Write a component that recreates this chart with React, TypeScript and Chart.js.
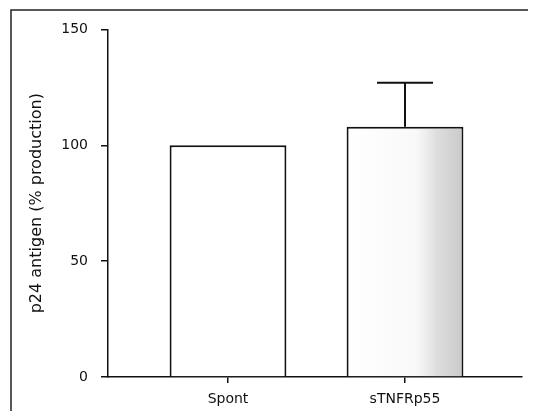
import React, { useEffect, useRef } from "react";
import { Chart, registerables } from "chart.js";

Chart.register(...registerables);

const categories = ["Spont", "sTNFRp55"];
const values = [100, 108];
const errorsUp = [0, 19];
const yTicks = [0, 50, 100, 150];
const yTitle = "p24 antigen (% production)";

const INK = "#111";
const FONT = "'DejaVu Sans', 'Liberation Sans', sans-serif";

export default function App() {
  const ref = useRef<HTMLCanvasElement>(null);

  useEffect(() => {
    if (!ref.current) return;

    const framePlugin = {
      id: "frame",
      beforeDraw(chart: any) {
        const c = chart.ctx;
        c.save();
        c.strokeStyle = "#222";
        c.lineWidth = 1.5;
        c.beginPath();
        c.moveTo(3, chart.height);
        c.lineTo(3, 2);
        c.lineTo(chart.width, 2);
        c.stroke();
        c.restore();
      },
    };

    const errorPlugin = {
      id: "errbars",
      afterDatasetsDraw(chart: any) {
        const meta = chart.getDatasetMeta(0);
        const ys = chart.scales.y;
        const c = chart.ctx;
        c.save();
        const b2 = meta.data[1];
        if (b2) {
          const left = b2.x - b2.width / 2 + 2;
          const right = b2.x + b2.width / 2 - 2;
          const g = c.createLinearGradient(left, 0, right, 0);
          g.addColorStop(0, "rgba(200,200,200,0)");
          g.addColorStop(0.6, "rgba(200,200,200,0.12)");
          g.addColorStop(0.78, "rgba(170,170,170,0.4)");
          g.addColorStop(1, "rgba(160,160,160,0.55)");
          c.fillStyle = g;
          c.fillRect(left, b2.y + 2, right - left, b2.base - b2.y - 2);
        }
        c.strokeStyle = INK;
        c.lineWidth = 2;
        meta.data.forEach((bar: any, i: number) => {
          const e = errorsUp[i];
          if (!e) return;
          const yb = ys.getPixelForValue(values[i]);
          const yt = ys.getPixelForValue(values[i] + e);
          c.beginPath();
          c.moveTo(bar.x, yb);
          c.lineTo(bar.x, yt);
          c.moveTo(bar.x - 28, yt);
          c.lineTo(bar.x + 28, yt);
          c.stroke();
        });
        c.restore();
      },
    };

    const chart = new Chart(ref.current, {
      type: "bar",
      data: {
        datasets: [
          {
            data: values.map((v, i) => ({ x: i, y: v })),
            backgroundColor: "#ffffff",
            borderColor: INK,
            borderWidth: 2,
            barPercentage: 0.66,
            categoryPercentage: 1,
          },
        ],
      },
      options: {
        animation: false,
        responsive: false,
        maintainAspectRatio: false,
        layout: { padding: { left: 0, top: 21, right: 6, bottom: 0 } },
        plugins: { legend: { display: false }, tooltip: { enabled: false } },
        scales: {
          x: {
            type: "linear",
            offset: false,
            min: -0.678,
            max: 1.661,
            afterBuildTicks: (s: any) => {
              s.ticks = categories.map((_, i) => ({ value: i }));
            },
            afterFit: (s: any) => {
              s.height = 34;
            },
            ticks: {
              callback: (v: any) => categories[v] ?? "",
              autoSkip: false,
              maxRotation: 0,
              padding: 8,
              color: INK,
              font: { family: FONT, size: 14 },
            },
            grid: {
              display: true,
              offset: false,
              drawOnChartArea: false,
              drawTicks: true,
              tickLength: 6,
              color: INK,
              lineWidth: 1.5,
            },
            border: { display: true, color: INK, width: 1.5 },
          },
          y: {
            min: 0,
            max: 150,
            afterBuildTicks: (s: any) => {
              s.ticks = yTicks.map((v) => ({ value: v }));
            },
            afterFit: (s: any) => {
              s.width = 100;
            },
            ticks: {
              padding: 13,
              color: INK,
              font: { family: FONT, size: 14 },
            },
            grid: {
              display: true,
              drawOnChartArea: false,
              drawTicks: true,
              tickLength: 7,
              color: INK,
              lineWidth: 1.5,
            },
            border: { display: true, color: INK, width: 1.5 },
            title: {
              display: true,
              text: yTitle,
              color: INK,
              font: { family: FONT, size: 16 },
              padding: { top: 19, bottom: 0 },
            },
          },
        },
      },
      plugins: [framePlugin, errorPlugin],
    } as any);

    return () => chart.destroy();
  }, []);

  return (
    <div style={{ width: 520, height: 403 }}>
      <canvas ref={ref} width={520} height={403} style={{ display: "block" }} />
    </div>
  );
}
